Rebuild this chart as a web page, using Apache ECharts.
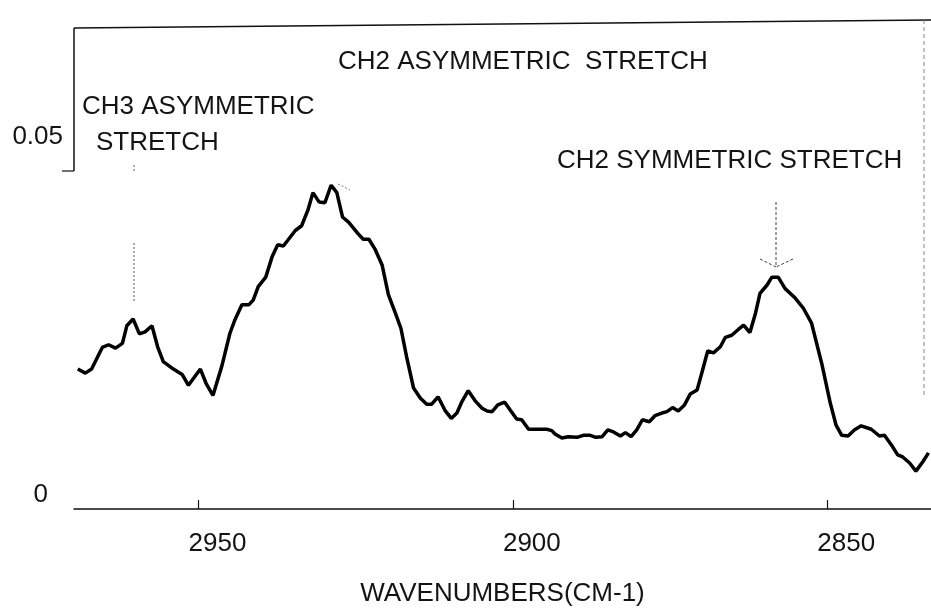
<!DOCTYPE html>
<html>
<head>
<meta charset="utf-8">
<script src="https://cdn.jsdelivr.net/npm/echarts@6/dist/echarts.min.js"></script>
<style>
  html, body { margin: 0; padding: 0; background: #fff; }
  #main { width: 931px; height: 611px; }
</style>
</head>
<body>
<div id="main"></div>
<script>
var wavenumbers = [
  2969.2, 2968.0, 2967.0, 2965.3, 2964.3, 2963.2, 2962.1, 2961.4, 2960.4, 2959.4,
  2958.5, 2957.4, 2956.5, 2955.6, 2954.0, 2952.6, 2951.6, 2949.7, 2948.8, 2947.7,
  2946.3, 2945.0, 2944.2, 2943.1, 2942.0, 2941.3, 2940.5, 2939.3, 2938.3, 2937.4,
  2936.5, 2934.6, 2933.6, 2932.6, 2931.8, 2930.8, 2929.9, 2928.9, 2928.0, 2927.1,
  2926.1, 2924.6, 2923.8, 2922.9, 2921.9, 2920.8, 2919.8, 2918.7, 2917.8, 2916.9,
  2915.8, 2914.7, 2913.7, 2912.9, 2911.9, 2910.8, 2909.8, 2908.9, 2908.1, 2907.1,
  2906.0, 2904.9, 2904.1, 2903.3, 2902.4, 2901.3, 2900.4, 2899.4, 2898.6, 2897.5,
  2896.5, 2894.6, 2893.8, 2893.3, 2892.2, 2891.2, 2889.8, 2888.8, 2887.7, 2886.8,
  2885.8, 2884.9, 2884.0, 2882.9, 2882.1, 2881.2, 2880.3, 2879.4, 2878.3, 2877.4,
  2876.3, 2875.5, 2874.6, 2873.7, 2872.7, 2871.8, 2870.7, 2869.9, 2869.0, 2868.1,
  2867.0, 2866.2, 2865.2, 2864.1, 2863.3, 2862.3, 2861.4, 2860.7, 2859.6, 2858.8,
  2857.8, 2856.7, 2855.1, 2853.8, 2852.5, 2850.9, 2849.5, 2848.6, 2847.7, 2846.7,
  2845.7, 2844.6, 2843.0, 2841.7, 2840.9, 2839.6, 2838.8, 2838.0, 2836.9, 2835.9,
  2834.8, 2833.9
];
var absorbance = [
  0.0207, 0.0201, 0.0207, 0.0239, 0.0243, 0.0238, 0.0245, 0.0271, 0.0281, 0.0259,
  0.0262, 0.0271, 0.0240, 0.0218, 0.0207, 0.0199, 0.0183, 0.0207, 0.0186, 0.0168,
  0.0211, 0.0260, 0.0280, 0.0302, 0.0302, 0.0309, 0.0329, 0.0343, 0.0373, 0.0391,
  0.0389, 0.0412, 0.0419, 0.0442, 0.0468, 0.0454, 0.0453, 0.0479, 0.0468, 0.0432,
  0.0424, 0.0407, 0.0399, 0.0399, 0.0384, 0.0361, 0.0317, 0.0290, 0.0267, 0.0225,
  0.0179, 0.0164, 0.0155, 0.0155, 0.0166, 0.0146, 0.0134, 0.0142, 0.0159, 0.0175,
  0.0160, 0.0149, 0.0145, 0.0144, 0.0154, 0.0158, 0.0146, 0.0133, 0.0132, 0.0118,
  0.0118, 0.0118, 0.0116, 0.0111, 0.0105, 0.0107, 0.0106, 0.0109, 0.0109, 0.0106,
  0.0107, 0.0117, 0.0114, 0.0108, 0.0113, 0.0107, 0.0117, 0.0132, 0.0129, 0.0138,
  0.0142, 0.0144, 0.0150, 0.0145, 0.0154, 0.0170, 0.0176, 0.0203, 0.0234, 0.0231,
  0.0240, 0.0254, 0.0257, 0.0266, 0.0272, 0.0261, 0.0290, 0.0319, 0.0331, 0.0343,
  0.0343, 0.0326, 0.0312, 0.0297, 0.0275, 0.0216, 0.0156, 0.0124, 0.0109, 0.0108,
  0.0117, 0.0123, 0.0118, 0.0108, 0.0109, 0.0092, 0.0080, 0.0077, 0.0068, 0.0056,
  0.0070, 0.0083
];
var xTicks = [2950, 2900, 2850];
var yTicks = [0, 0.05];

var FONT = '"Liberation Sans", Arial, sans-serif';
var INK = '#141414';

var points = [];
for (var i = 0; i < wavenumbers.length; i++) {
  points.push([wavenumbers[i], absorbance[i]]);
}

function txt(s, x, y) {
  return {
    type: 'text', x: x, y: y, silent: true,
    style: { text: s, fill: INK, font: '26px ' + FONT, textVerticalAlign: 'middle' }
  };
}
function seg(x1, y1, x2, y2, dash, w, c) {
  return {
    type: 'line', silent: true,
    shape: { x1: x1, y1: y1, x2: x2, y2: y2 },
    style: { stroke: c || '#222', lineWidth: w || 1, lineDash: dash || null }
  };
}

var myChart = echarts.init(document.getElementById('main'));
var option = {
  backgroundColor: '#fff',
  animation: false,
  grid: { left: 74, right: 0, top: 25, bottom: 102, outerBoundsMode: 'none' },
  xAxis: {
    type: 'value',
    inverse: true,
    min: 2833.5,
    max: 2969.8,
    name: 'WAVENUMBERS(CM-1)',
    nameLocation: 'middle',
    nameGap: 72,
    nameTextStyle: { fontFamily: FONT, fontSize: 26, color: INK },
    axisLine: { lineStyle: { color: '#111', width: 1.5 } },
    axisTick: { inside: true, length: 9, customValues: xTicks, lineStyle: { color: '#111', width: 1.2 } },
    axisLabel: {
      customValues: xTicks,
      formatter: function (v) { return String(v); },
      fontFamily: FONT, fontSize: 26, color: INK,
      margin: 22, padding: [0, 0, 0, 38]
    },
    splitLine: { show: false }
  },
  yAxis: {
    type: 'value',
    min: 0,
    max: 0.0716,
    axisLine: { show: false },
    axisTick: { show: false },
    splitLine: { show: false },
    axisLabel: {
      customValues: yTicks,
      margin: 11,
      formatter: function (v) { return v === 0 ? '{z|0}' : '{f|0.05}'; },
      rich: {
        z: { fontFamily: FONT, fontSize: 26, color: INK, padding: [0, 15, 28, 0] },
        f: { fontFamily: FONT, fontSize: 26, color: INK, padding: [0, 0, 68, 0] }
      }
    }
  },
  series: [{
    type: 'line',
    data: points,
    symbol: 'none',
    lineStyle: { color: '#000', width: 3.5 },
    z: 3
  }],
  graphic: [
    // frame pieces of the original plot box
    seg(74, 28, 74, 171, null, 1.5, '#111'),
    seg(62, 171, 74, 171, null, 1.2, '#111'),
    seg(74, 28, 931, 20, null, 1.5, '#111'),
    seg(924, 20, 924, 395, [4, 3], 1, '#888'),
    // peak markers
    seg(134, 165, 134, 173, [2, 2], 1, '#555'),
    seg(134, 243, 134, 303, [2, 2], 1, '#555'),
    seg(338, 184, 350, 190, [2, 2], 1, '#777'),
    seg(776, 202, 776, 267, [3, 2], 1, '#444'),
    seg(760, 259, 776, 267, [3, 2], 1, '#444'),
    seg(793, 259, 776, 267, [3, 2], 1, '#444'),
    // band labels
    txt('CH3 ASYMMETRIC', 82, 107),
    txt('STRETCH', 96, 143),
    txt('CH2 ASYMMETRIC  STRETCH', 338, 62),
    txt('CH2 SYMMETRIC STRETCH', 557, 161)
  ]
};
myChart.setOption(option);
</script>
</body>
</html>
